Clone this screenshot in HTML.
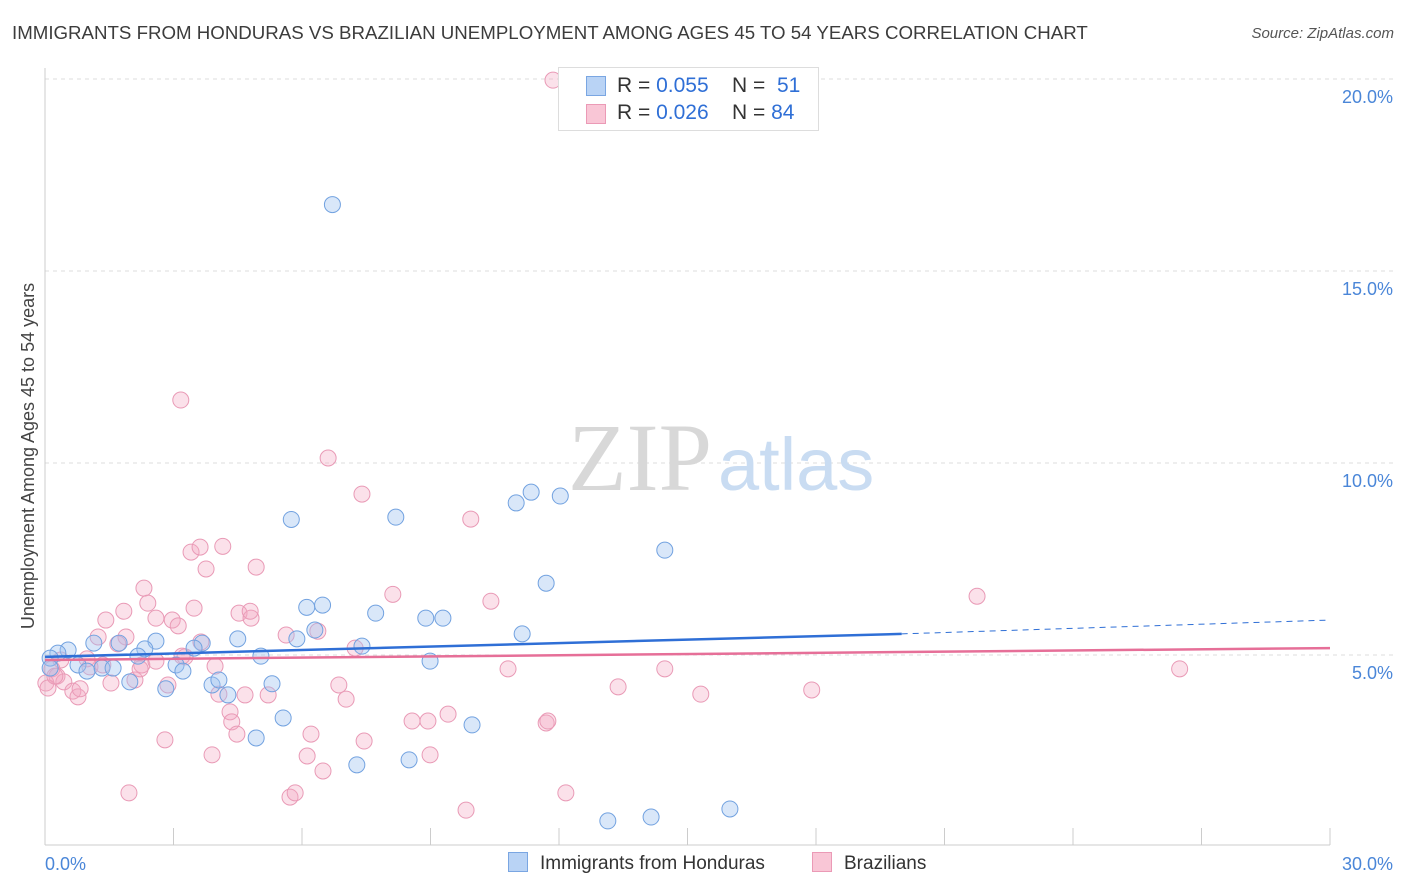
<!DOCTYPE html>
<html><head><meta charset="utf-8">
<style>
body{margin:0;background:#fff;font-family:"Liberation Sans",sans-serif;}
#wrap{position:relative;width:1406px;height:892px;overflow:hidden;}
.t{position:absolute;white-space:nowrap;}
</style></head>
<body>
<div id="wrap">
<div class="t" style="left:12px;top:22px;font-size:18.7px;color:#3c3c3c;">IMMIGRANTS FROM HONDURAS VS BRAZILIAN UNEMPLOYMENT AMONG AGES 45 TO 54 YEARS CORRELATION CHART</div>
<div class="t" style="right:12px;top:25px;font-size:15px;color:#555;font-style:italic;">Source: ZipAtlas.com</div>
<svg id="svg" width="1406" height="892" style="position:absolute;left:0;top:0"></svg>
</div>
<script>
const xTicks=[0,3,6,9,12,15,18,21,24,27,30];
const yTicks=[5,10,15,20];
const yTickLabels=["5.0%","10.0%","15.0%","20.0%"];
const blueX=[6.71,5.75,8.19,11.35,12.03,11.00,14.47,11.70,6.11,6.48,7.72,8.89,9.29,6.30,11.14,5.88,4.50,2.59,7.40,3.67,2.33,1.14,1.73,0.54,0.30,0.12,0.77,1.33,0.98,1.59,2.17,3.06,3.22,3.48,5.04,8.99,3.90,4.06,5.30,1.98,2.82,4.27,5.56,4.93,9.97,7.28,8.50,13.14,14.15,15.99,0.12];
const blueY=[16.73,8.53,8.59,9.24,9.14,8.96,7.73,6.87,6.24,6.30,6.09,5.96,5.96,5.65,5.55,5.42,5.42,5.36,5.23,5.31,5.16,5.31,5.31,5.13,5.05,4.92,4.74,4.66,4.58,4.66,4.97,4.74,4.58,5.18,4.97,4.84,4.22,4.35,4.25,4.30,4.12,3.96,3.36,2.84,3.18,2.14,2.27,0.68,0.78,0.99,4.66];
const pinkX=[11.86,3.17,6.61,7.40,9.94,3.41,3.62,4.15,3.76,4.93,2.31,8.12,10.41,21.76,1.84,2.40,1.42,2.59,3.48,4.53,4.81,2.97,3.11,1.24,1.89,1.70,3.64,5.63,6.37,7.24,0.37,0.98,2.26,2.59,3.27,3.97,10.81,14.47,26.49,0.16,0.28,0.44,0.65,0.77,0.82,1.54,2.10,2.87,4.06,4.67,5.21,6.86,7.03,13.38,15.31,17.90,4.32,4.36,4.48,8.57,8.94,9.41,11.70,11.74,6.21,2.80,7.45,3.90,6.12,8.99,6.49,1.96,5.72,5.84,9.83,12.16,0.02,0.07,0.23,1.05,1.35,2.22,4.79,3.20];
const pinkY=[19.97,11.64,10.13,9.19,8.54,7.68,7.81,7.83,7.24,7.29,6.74,6.58,6.40,6.53,6.14,6.35,5.91,5.96,6.22,6.09,5.96,5.91,5.76,5.47,5.47,5.29,5.34,5.52,5.62,5.18,4.87,4.90,4.74,4.84,4.95,4.71,4.64,4.64,4.64,4.64,4.45,4.30,4.06,3.91,4.12,4.27,4.35,4.22,3.98,3.96,3.96,4.22,3.85,4.17,3.98,4.09,3.52,3.26,2.94,3.28,3.28,3.46,3.23,3.28,2.94,2.79,2.76,2.40,2.37,2.40,1.98,1.41,1.30,1.41,0.96,1.41,4.27,4.14,4.45,4.69,4.74,4.64,6.14,4.97];
const blueLine=[4.95,5.55,5.91]; // at x=0, 20, 30
const pinkLine=[4.87,5.18];
const svg=document.getElementById('svg');
const NS='http://www.w3.org/2000/svg';
const X0=45,X1=1330,YB=847,PPU=192/5;
const sx=v=>X0+(X1-X0)*v/30, sy=v=>YB-v*PPU;
function el(tag,attrs,parent){const e=document.createElementNS(NS,tag);for(const k in attrs)e.setAttribute(k,attrs[k]);(parent||svg).appendChild(e);return e;}
yTicks.forEach((v,i)=>{
 const g=el('line',{x1:X0,x2:1395,y1:sy(v),y2:sy(v),stroke:'#dcdcdc','stroke-dasharray':'4,4'});
 
 
 const t=el('text',{x:1393,y:sy(v)+24,'text-anchor':'end','font-size':18,fill:'#4a86d8','font-family':'Liberation Sans, sans-serif'});
 t.textContent=yTickLabels[i];
 
 
});
const ax=el('line',{x1:X0,x2:X0,y1:68,y2:845,stroke:'#ccc'});


const bx=el('line',{x1:X0,x2:X1,y1:845,y2:845,stroke:'#ccc'});


xTicks.forEach(v=>{
 const t=el('line',{x1:sx(v),x2:sx(v),y1:828,y2:845,stroke:'#ccc'});
 
 
});
[[0,'0.0%','start',45],[30,'30.0%','end',1393]].forEach(d=>{
 const t=el('text',{x:d[3],y:870,'text-anchor':d[2],'font-size':18,fill:'#4a86d8','font-family':'Liberation Sans, sans-serif'});
 t.textContent=d[1];
 
 
});
const w=el('text',{x:712,y:490,'text-anchor':'end','font-size':96,fill:'#d8d8d8','font-family':'Liberation Serif, serif'});w.textContent='ZIP';


const w2=el('text',{x:718,y:490,'font-size':74,fill:'#c9dcf2','font-family':'Liberation Sans, sans-serif'});w2.textContent='atlas';


const yl=el('text',{x:0,y:0,transform:'translate(34,456) rotate(-90)','text-anchor':'middle','font-size':18,fill:'#444','font-family':'Liberation Sans, sans-serif'});
yl.textContent='Unemployment Among Ages 45 to 54 years';


pinkX.forEach((x,i)=>{const c=el('circle',{cx:sx(x),cy:sy(pinkY[i]),r:8,fill:'rgba(244,170,196,0.35)',stroke:'#e99ab6','stroke-width':1});
 
 });
blueX.forEach((x,i)=>{const c=el('circle',{cx:sx(x),cy:sy(blueY[i]),r:8,fill:'rgba(160,196,240,0.4)',stroke:'#72a2e0','stroke-width':1});
 
 });
const bl=el('line',{x1:sx(0),y1:sy(blueLine[0]),x2:sx(20),y2:sy(blueLine[1]),stroke:'#2f6fd6','stroke-width':2.5});


const bd=el('line',{x1:sx(20),y1:sy(blueLine[1]),x2:sx(30),y2:sy(blueLine[2]),stroke:'#2f6fd6','stroke-width':1,'stroke-dasharray':'6,5'});


const pl=el('line',{x1:sx(0),y1:sy(pinkLine[0]),x2:sx(30),y2:sy(pinkLine[1]),stroke:'#e66f98','stroke-width':2.5});


</script>
<div class="t" style="left:558px;top:67px;width:259px;height:62px;border:1px solid #ddd;background:#fff;font-size:21px;color:#333;">
 <div style="position:absolute;left:27px;top:8px;width:18px;height:18px;background:#b9d3f5;border:1px solid #7aa6e2;"></div>
 <div style="position:absolute;left:58px;top:6px;">R = <span style="color:#2f6fd6">0.055</span>&nbsp;&nbsp;&nbsp; N = &nbsp;<span style="color:#2f6fd6">51</span></div>
 <div style="position:absolute;left:27px;top:36px;width:18px;height:18px;background:#f9c6d6;border:1px solid #eb9ab6;"></div>
 <div style="position:absolute;left:58px;top:33px;">R = <span style="color:#2f6fd6">0.026</span>&nbsp;&nbsp;&nbsp; N = <span style="color:#2f6fd6">84</span></div>
</div>
<div class="t" style="left:508px;top:852px;font-size:19px;color:#333;"><span style="display:inline-block;width:18px;height:18px;background:#b9d3f5;border:1px solid #7aa6e2;vertical-align:-3px;margin-right:12px;"></span>Immigrants from Honduras</div>
<div class="t" style="left:812px;top:852px;font-size:19px;color:#333;"><span style="display:inline-block;width:18px;height:18px;background:#f9c6d6;border:1px solid #eb9ab6;vertical-align:-3px;margin-right:12px;"></span>Brazilians</div>
</body></html>
